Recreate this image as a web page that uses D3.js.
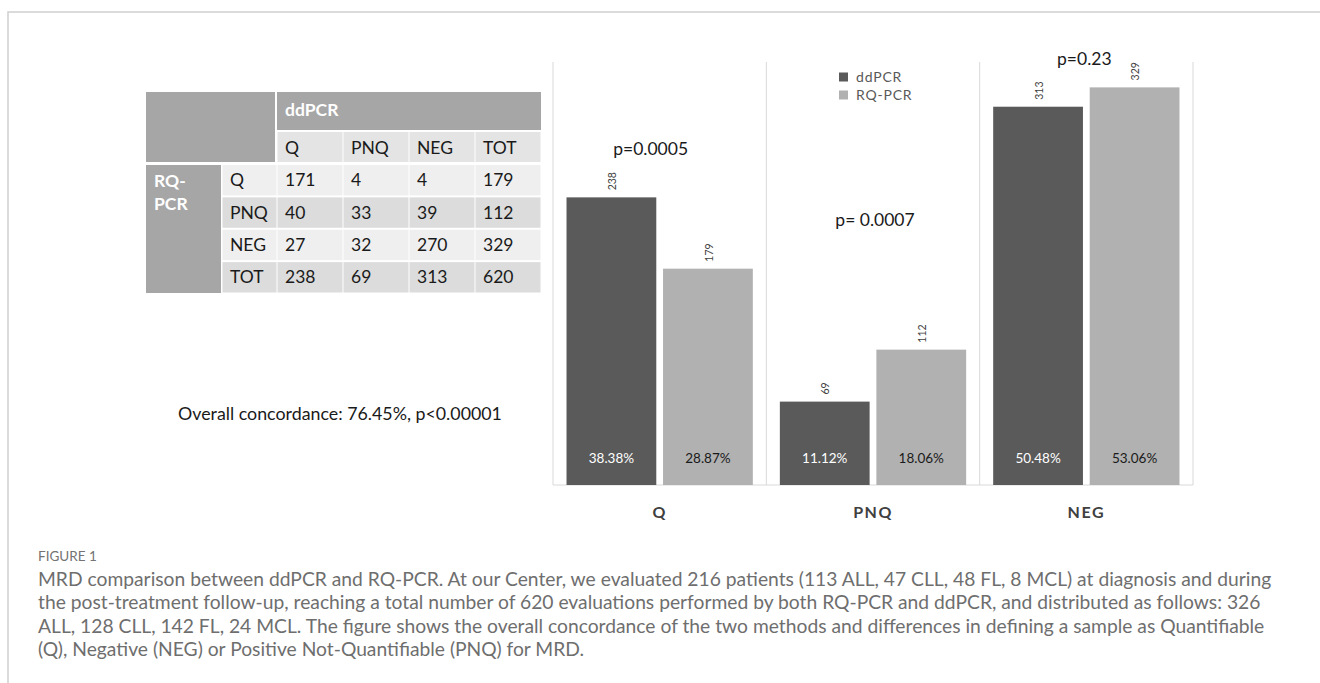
<!DOCTYPE html>
<html><head><meta charset="utf-8">
<script src="https://cdn.jsdelivr.net/npm/d3@7"></script>
<style>
body{margin:0;background:#fff;}
svg{display:block;}
</style></head>
<body>
<svg id="c" width="1320" height="683"></svg>
<script>
// ---------- DATA ----------
const tableCols = ["Q", "PNQ", "NEG", "TOT"];       // ddPCR columns
const tableRows = ["Q", "PNQ", "NEG", "TOT"];       // RQ-PCR rows
const rowQ   = [171, 4, 4, 179];
const rowPNQ = [40, 33, 39, 112];
const rowNEG = [27, 32, 270, 329];
const rowTOT = [238, 69, 313, 620];
const concordanceText = "Overall concordance: 76.45%, p<0.00001";

const categories = ["Q", "PNQ", "NEG"];
const seriesNames = ["ddPCR", "RQ-PCR"];
const ddPCR = [238, 69, 313];
const rqPCR = [179, 112, 329];
const ddPct = ["38.38%", "11.12%", "50.48%"];
const rqPct = ["28.87%", "18.06%", "53.06%"];
const pValues = ["p=0.0005", "p= 0.0007", "p=0.23"];
const yMax = 350;

const captionTitle = "FIGURE 1";
const captionLines = [
 "MRD comparison between ddPCR and RQ-PCR. At our Center, we evaluated 216 patients (113 ALL, 47 CLL, 48 FL, 8 MCL) at diagnosis and during",
 "the post-treatment follow-up, reaching a total number of 620 evaluations performed by both RQ-PCR and ddPCR, and distributed as follows: 326",
 "ALL, 128 CLL, 142 FL, 24 MCL. The figure shows the overall concordance of the two methods and differences in defining a sample as Quantifiable",
 "(Q), Negative (NEG) or Positive Not-Quantifiable (PNQ) for MRD."
];

// ---------- LAYOUT ----------
const FONT = "Lato, 'Open Sans', sans-serif";
const svg = d3.select("#c");
const colors = {dark: "#5a5a5a", light: "#b1b1b1"};

function fitWidth(sel, baseSize, target) {
  const w = sel.node().getComputedTextLength();
  sel.attr("font-size", baseSize * target / w);
}

// outer frame
svg.append("path").attr("d", "M8,683 V12 H1320").attr("fill", "none")
   .attr("stroke", "#cfcfcf").attr("stroke-width", 1.5);

// ---------- TABLE ----------
const tbl = svg.append("g");
const tx = d3.scaleBand().domain(tableCols).range([277, 541]);
const ty = d3.scaleBand().domain(tableRows).range([164, 293.5]);
const headGray = "#a6a6a6";
const tableFont = 17.5;
tbl.append("rect").attr("x", 146).attr("y", 92).attr("width", 275 - 146).attr("height", 162 - 92).attr("fill", headGray);
tbl.append("rect").attr("x", 277).attr("y", 92).attr("width", 541 - 277).attr("height", 130 - 92).attr("fill", headGray);
tbl.append("text").attr("x", 285).attr("y", 110).attr("dy", "0.35em").text("ddPCR")
   .attr("font-family", FONT).attr("font-weight", "bold").attr("font-size", tableFont).attr("fill", "#fff");
tableCols.forEach(c => {
  tbl.append("rect").attr("x", tx(c) + 0.5).attr("y", 132).attr("width", tx.bandwidth() - 1).attr("height", 30)
     .attr("fill", "#e4e4e4");
  tbl.append("text").attr("x", tx(c) + 8).attr("y", 148).attr("dy", "0.35em").text(c)
     .attr("font-family", FONT).attr("font-size", tableFont).attr("fill", "#1a1a1a");
});
tbl.append("rect").attr("x", 146).attr("y", 165).attr("width", 221 - 146).attr("height", 293 - 165).attr("fill", headGray);
tbl.append("text").attr("x", 154).attr("y", 181).attr("dy", "0.35em").text("RQ-")
   .attr("font-family", FONT).attr("font-weight", "bold").attr("font-size", tableFont).attr("fill", "#fff");
tbl.append("text").attr("x", 154).attr("y", 204).attr("dy", "0.35em").text("PCR")
   .attr("font-family", FONT).attr("font-weight", "bold").attr("font-size", tableFont).attr("fill", "#fff");
const matrix = [rowQ, rowPNQ, rowNEG, rowTOT];
tableRows.forEach((r, i) => {
  const fill = i % 2 === 0 ? "#efefef" : "#dcdcdc";
  const y0 = ty(r) + 1, h = ty.bandwidth() - 2;
  tbl.append("rect").attr("x", 222.5).attr("y", y0).attr("width", 277 - 223).attr("height", h).attr("fill", fill);
  tbl.append("text").attr("x", 230).attr("y", ty(r) + ty.bandwidth() / 2).attr("dy", "0.35em").text(r)
     .attr("font-family", FONT).attr("font-size", tableFont).attr("fill", "#1a1a1a");
  tableCols.forEach((c, j) => {
    tbl.append("rect").attr("x", tx(c) + 0.5).attr("y", y0).attr("width", tx.bandwidth() - 1).attr("height", h).attr("fill", fill);
    tbl.append("text").attr("x", tx(c) + 8).attr("y", ty(r) + ty.bandwidth() / 2).attr("dy", "0.35em").text(matrix[i][j])
       .attr("font-family", FONT).attr("font-size", tableFont).attr("fill", "#1a1a1a");
  });
});

const conc = svg.append("text").attr("x", 340).attr("y", 414).attr("dy", "0.35em").attr("text-anchor", "middle")
   .text(concordanceText).attr("font-family", FONT).attr("font-size", 17).attr("fill", "#1a1a1a");
fitWidth(conc, 17, 324);

// ---------- BAR CHART ----------
const plot = {left: 553, right: 1193, top: 62, bottom: 485};
const x0 = d3.scaleBand().domain(categories).range([plot.left, plot.right]);
const x1 = d3.scaleBand().domain(seriesNames).range([0, x0.bandwidth()]).paddingInner(0.07).paddingOuter(0.14);
const y = d3.scaleLinear().domain([0, yMax]).range([plot.bottom, plot.top]);

const grid = svg.append("g").attr("stroke", "#d9d9d9").attr("stroke-width", 1);
const seps = categories.map(c => x0(c)).concat([plot.right]);
seps.forEach(sx => grid.append("line").attr("x1", sx).attr("x2", sx).attr("y1", plot.top).attr("y2", plot.bottom));
grid.append("line").attr("x1", plot.left).attr("x2", plot.right).attr("y1", plot.bottom).attr("y2", plot.bottom);

const seriesVals = {"ddPCR": ddPCR, "RQ-PCR": rqPCR};
const seriesPct = {"ddPCR": ddPct, "RQ-PCR": rqPct};
const seriesCol = {"ddPCR": colors.dark, "RQ-PCR": colors.light};
const pctCol = {"ddPCR": "#ffffff", "RQ-PCR": "#1a1a1a"};

categories.forEach((cat, i) => {
  const g = svg.append("g").attr("transform", `translate(${x0(cat)},0)`);
  seriesNames.forEach(s => {
    const v = seriesVals[s][i];
    const bx = x1(s), bw = x1.bandwidth();
    g.append("rect").attr("x", bx).attr("y", y(v)).attr("width", bw).attr("height", y(0) - y(v))
     .attr("fill", seriesCol[s]);
    g.append("text").attr("transform", `translate(${bx + bw / 2 + 1},${y(v) - 7}) rotate(-90)`)
     .attr("dy", "0.35em").text(v)
     .attr("font-family", FONT).attr("font-size", 10.5).attr("fill", "#404040");
    g.append("text").attr("x", bx + bw / 2).attr("y", 458).attr("dy", "0.35em").attr("text-anchor", "middle")
     .text(seriesPct[s][i]).attr("font-family", FONT).attr("font-size", 13.5).attr("fill", pctCol[s]);
  });
  g.append("text").attr("x", x0.bandwidth() / 2).attr("y", 512).attr("dy", "0.35em").attr("text-anchor", "middle")
   .text(cat).attr("font-family", FONT).attr("font-weight", "bold").attr("font-size", 16)
   .attr("letter-spacing", 1.5).attr("fill", "#404040");
});

const pOffsetX = [-9, 2, -2];
const pLabelY = [149, 220, 59];
categories.forEach((cat, i) => {
  svg.append("text").attr("x", x0(cat) + x0.bandwidth() / 2 + pOffsetX[i]).attr("y", pLabelY[i]).attr("dy", "0.35em")
     .attr("text-anchor", "middle").text(pValues[i])
     .attr("font-family", FONT).attr("font-size", 17.5).attr("fill", "#1a1a1a");
});

// legend
const lg = svg.append("g").attr("transform", "translate(839,77)");
seriesNames.forEach((s, i) => {
  lg.append("rect").attr("x", 0).attr("y", i * 18 - 4.5).attr("width", 9).attr("height", 9).attr("fill", seriesCol[s]);
  lg.append("text").attr("x", 17).attr("y", i * 18).attr("dy", "0.35em").text(s)
    .attr("font-family", FONT).attr("font-size", 14).attr("letter-spacing", 0.8).attr("fill", "#595959");
});

// ---------- CAPTION ----------
const capX = 38;
svg.append("text").attr("x", capX).attr("y", 556).attr("dy", "0.35em").text(captionTitle)
   .attr("font-family", FONT).attr("font-size", 13.5).attr("fill", "#737373");
const capTexts = captionLines.map((t, i) =>
  svg.append("text").attr("x", capX).attr("y", 579 + i * 23.4).attr("dy", "0.35em").text(t)
     .attr("font-family", FONT).attr("font-size", 17).attr("fill", "#6e6e6e"));
const w0 = capTexts[0].node().getComputedTextLength();
const fs = 17 * (1272 - capX) / w0;
capTexts.forEach(t => t.attr("font-size", fs));
</script>
</body></html>
